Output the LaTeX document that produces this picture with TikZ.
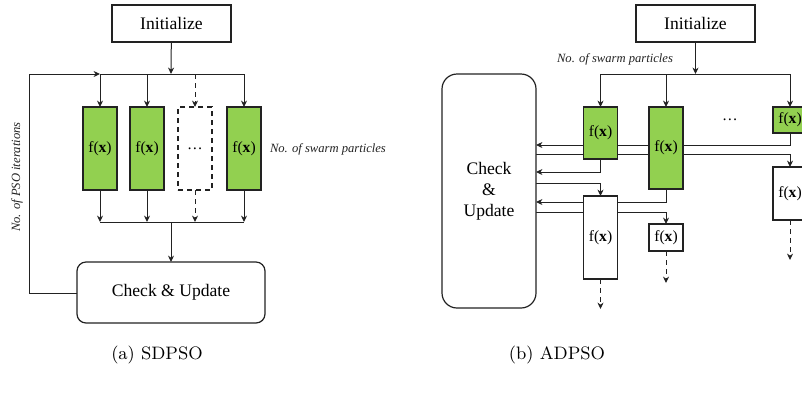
\documentclass[tikz,border=0pt]{standalone}
\usepackage{fontspec}
\newfontfamily\tms{Liberation Serif}
\usetikzlibrary{arrows.meta,backgrounds}
\definecolor{grn}{HTML}{92D050}
\definecolor{ink}{HTML}{222222}
\begin{document}
\begin{tikzpicture}[x=0.5pt,y=-0.5pt,
  every node/.style={inner sep=0pt,outer sep=0pt},
  ln/.style={draw=ink,line width=0.5pt},
  arr/.style={ln,-{Stealth[length=3.2pt,width=3pt,inset=1pt]}},
  darr/.style={arr,dash pattern=on 2.5pt off 2pt},
  bigbox/.style={draw=ink,line width=0.6pt,fill=white,font=\tms\fontsize{8.8}{10.5}\selectfont,align=center},
  fxbox/.style={draw=ink,line width=0.6pt,fill=white,font=\tms\fontsize{7.8}{9}\selectfont,minimum width=17pt},
  gbox/.style={fxbox,fill=grn},
  lab/.style={font=\tms\itshape\fontsize{6.3}{7.5}\selectfont,text=ink},
  captxt/.style={font=\fontsize{9}{11}\selectfont}]
\useasboundingbox (0,0) rectangle (802,398);
% ---------- (a) SDPSO ----------
\node[bigbox,minimum width=59.5pt,minimum height=18.5pt] (initL) at (171.5,23.5) {Initialize};
\node[gbox,minimum height=41.5pt] (f1) at (100,148.5) {f(\textbf{x})};
\node[gbox,minimum height=41.5pt] (f2) at (147,148.5) {f(\textbf{x})};
\node[fxbox,dash pattern=on 2.5pt off 2pt,minimum height=41.5pt] (fd) at (195,148.5) {\ldots};
\node[gbox,minimum height=41.5pt] (f4) at (244,148.5) {f(\textbf{x})};
\node[bigbox,rounded corners=4.5pt,minimum width=94pt,minimum height=30.5pt] (cuL) at (171,292.5) {Check \& Update};
\coordinate (tL) at (171,74);
\coordinate (bL) at (171,222);
\coordinate (lpTop) at (29,74);
\coordinate (lpBot) at (29,293);
\draw[arr] (initL) -- (tL);
\draw[ln] (tL -| f1) -- (tL -| f4);
\draw[arr] (tL -| f1) -- (f1.north);
\draw[arr] (tL -| f2) -- (f2.north);
\draw[darr] (tL -| fd) -- (fd.north);
\draw[arr] (tL -| f4) -- (f4.north);
\draw[arr] (f1.south) -- (bL -| f1);
\draw[arr] (f2.south) -- (bL -| f2);
\draw[darr] (fd.south) -- (bL -| fd);
\draw[arr] (f4.south) -- (bL -| f4);
\draw[ln] (bL -| f1) -- (bL -| f4);
\draw[arr] (bL) -- (cuL.north);
\draw[arr] (cuL.west |- lpBot) -- (lpBot) -- (lpTop) -- (tL -| f1);
\node[lab,rotate=90] (itl) at (17,177) {No. of PSO iterations};
\node[lab,anchor=west] (spl) at (270,149) {No. of swarm particles};
\node[captxt] (capa) at (157,355) {(a) SDPSO};
% ---------- (b) ADPSO ----------
\node[bigbox,minimum width=59.5pt,minimum height=18.5pt] (initR) at (695.5,23.5) {Initialize};
\node[lab] (spr) at (615,59) {No. of swarm particles};
\node[bigbox,rounded corners=7.5pt,minimum width=47pt,minimum height=117pt] (cuR) at (489,191) {Check\\\&\\Update};
\node[gbox,minimum height=26pt] (gA) at (600.5,133) {f(\textbf{x})};
\node[gbox,minimum height=41pt] (gB) at (666,148) {f(\textbf{x})};
\node[gbox,minimum height=13pt] (gC) at (790,120) {f(\textbf{x})};
\node[fxbox,minimum height=26.5pt] (gD) at (790,193.5) {f(\textbf{x})};
\node[fxbox,minimum height=41.5pt] (gE) at (600.5,237.5) {f(\textbf{x})};
\node[fxbox,minimum height=13.5pt] (gF) at (666,237.5) {f(\textbf{x})};
\node[font=\tms\fontsize{7.8}{9}\selectfont] (dots) at (730,120) {\ldots};
\coordinate (tR) at (695.5,74);
\coordinate (y1) at (500,145);
\coordinate (y2) at (500,154);
\coordinate (y3) at (500,172);
\coordinate (y4) at (500,183);
\coordinate (y5) at (500,202);
\coordinate (y6) at (500,212);
\coordinate (eE) at (600.5,309);
\coordinate (eF) at (666,283);
\coordinate (eD) at (790,260);
\draw[arr] (initR) -- (tR);
\draw[ln] (tR -| gA) -- (tR -| gC);
\draw[arr] (tR -| gA) -- (gA.north);
\draw[arr] (tR -| gB) -- (gB.north);
\draw[arr] (tR -| gC) -- (gC.north);
\begin{pgfonlayer}{background}
\draw[arr] (gC.south) |- (y1 -| cuR.east);
\draw[arr] (y2 -| cuR.east) -| (gD.north);
\draw[arr] (gA.south) |- (y3 -| cuR.east);
\draw[arr] (y4 -| cuR.east) -| (gE.north);
\draw[arr] (gB.south) |- (y5 -| cuR.east);
\draw[arr] (y6 -| cuR.east) -| (gF.north);
\end{pgfonlayer}
\draw[darr] (gE.south) -- (eE);
\draw[darr] (gF.south) -- (eF);
\draw[darr] (gD.south) -- (eD);
\node[captxt] (capb) at (557,355) {(b) ADPSO};
\end{tikzpicture}
\end{document}
